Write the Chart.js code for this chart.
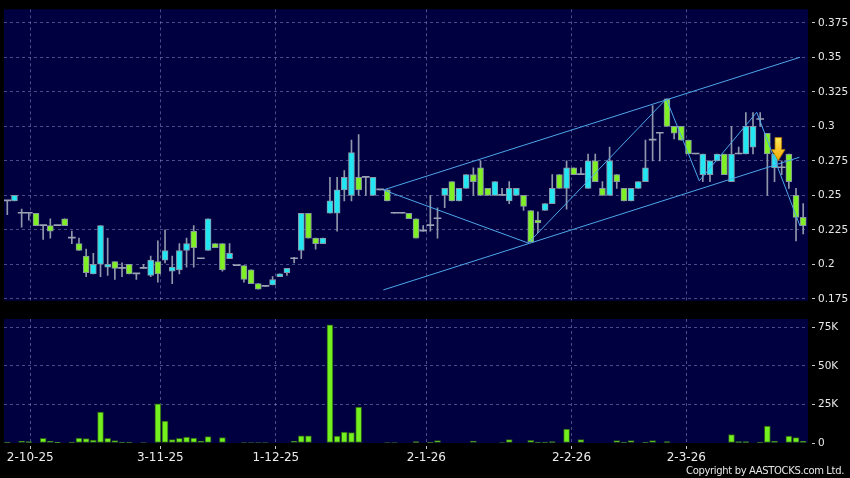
<!DOCTYPE html>
<html><head><meta charset="utf-8">
<script src="https://cdn.jsdelivr.net/npm/chart.js@4.4.1/dist/chart.umd.min.js"></script>
<style>
html,body{margin:0;padding:0;background:#000;width:850px;height:478px;overflow:hidden;}
#p{position:absolute;left:0;top:0;}
#v{position:absolute;left:0;top:305px;}
#copy{position:absolute;right:6px;top:465px;color:#e6e6e6;font:10px "DejaVu Sans",sans-serif;letter-spacing:-0.35px;white-space:nowrap;}
</style></head><body>
<canvas id="p" width="850" height="310"></canvas>
<canvas id="v" width="850" height="173"></canvas>
<div id="copy">Copyright by AASTOCKS.com Ltd.</div>
<script>
// ---- data (one entry per trading day, oldest first) ----
const OPEN  = [0.246,0.246,0.237,0.237,0.237,0.228,0.228,0.228,0.233,0.219,0.215,0.206,0.193,0.200,0.198,0.202,0.197,0.200,0.193,0.197,
               0.192,0.202,0.203,0.195,0.196,0.210,0.224,0.204,0.210,0.215,0.215,0.204,0.199,0.199,0.196,0.186,0.184,0.185,0.191,0.194,
               0.204,0.210,0.237,0.219,0.215,0.237,0.237,0.254,0.250,0.263,0.263,0.250,0.254,0.254,0.237,0.237,0.237,0.233,0.224,0.228,
               0.233,0.250,0.260,0.246,0.255,0.265,0.270,0.255,0.250,0.250,0.246,0.250,0.250,0.239,0.232,0.239,0.244,0.265,0.255,0.270,
               0.265,0.255,0.275,0.255,0.250,0.265,0.255,0.246,0.255,0.260,0.290,0.295,0.320,0.300,0.300,0.290,0.280,0.265,0.265,0.275,
               0.280,0.260,0.280,0.280,0.285,0.305,0.295,0.270,0.270,0.280,0.250,0.234];
const HIGH  = [0.246,0.250,0.240,0.237,0.237,0.228,0.233,0.228,0.233,0.224,0.219,0.211,0.208,0.228,0.219,0.202,0.201,0.200,0.193,0.200,
               0.206,0.217,0.225,0.206,0.215,0.219,0.228,0.204,0.233,0.215,0.215,0.215,0.199,0.199,0.196,0.186,0.184,0.191,0.193,0.197,
               0.205,0.237,0.237,0.219,0.219,0.263,0.263,0.268,0.290,0.294,0.263,0.263,0.254,0.254,0.237,0.237,0.237,0.233,0.228,0.250,
               0.241,0.255,0.260,0.255,0.265,0.270,0.275,0.255,0.260,0.255,0.260,0.255,0.250,0.239,0.238,0.244,0.265,0.265,0.275,0.270,
               0.270,0.280,0.280,0.260,0.285,0.265,0.255,0.255,0.260,0.290,0.315,0.295,0.320,0.300,0.300,0.290,0.280,0.280,0.275,0.280,
               0.280,0.300,0.285,0.310,0.310,0.310,0.295,0.280,0.275,0.280,0.255,0.244];
const LOW   = [0.236,0.246,0.227,0.232,0.228,0.218,0.219,0.228,0.228,0.215,0.210,0.191,0.193,0.191,0.192,0.189,0.191,0.193,0.189,0.197,
               0.191,0.187,0.201,0.186,0.193,0.198,0.198,0.204,0.210,0.212,0.195,0.204,0.199,0.187,0.186,0.182,0.184,0.185,0.191,0.192,
               0.201,0.204,0.219,0.211,0.215,0.237,0.224,0.246,0.246,0.250,0.250,0.250,0.254,0.246,0.237,0.237,0.233,0.219,0.224,0.224,
               0.219,0.241,0.246,0.246,0.255,0.250,0.250,0.250,0.250,0.250,0.244,0.250,0.239,0.216,0.223,0.239,0.244,0.255,0.240,0.265,
               0.265,0.255,0.260,0.250,0.250,0.255,0.246,0.246,0.255,0.260,0.275,0.275,0.300,0.291,0.290,0.280,0.280,0.260,0.260,0.275,
               0.265,0.260,0.280,0.280,0.280,0.300,0.250,0.260,0.265,0.255,0.217,0.222];
const CLOSE = [0.246,0.250,0.237,0.237,0.228,0.228,0.224,0.228,0.228,0.219,0.210,0.194,0.200,0.228,0.200,0.197,0.197,0.193,0.193,0.197,
               0.203,0.193,0.210,0.198,0.210,0.215,0.212,0.204,0.233,0.212,0.196,0.208,0.199,0.189,0.186,0.182,0.184,0.189,0.193,0.197,
               0.204,0.237,0.219,0.215,0.219,0.246,0.254,0.263,0.281,0.254,0.263,0.263,0.254,0.246,0.237,0.237,0.233,0.219,0.224,0.228,
               0.233,0.255,0.246,0.255,0.265,0.260,0.250,0.250,0.260,0.250,0.255,0.255,0.242,0.216,0.230,0.244,0.255,0.255,0.270,0.265,
               0.265,0.275,0.260,0.250,0.275,0.260,0.246,0.255,0.260,0.270,0.290,0.295,0.300,0.295,0.290,0.280,0.280,0.280,0.275,0.280,
               0.265,0.280,0.280,0.300,0.300,0.305,0.280,0.280,0.270,0.260,0.234,0.228];
const VOLUME = [650,0,1300,860,0,3000,1300,200,0,650,3200,2800,1940,20000,3000,1500,650,650,0,300,
                0,25400,14200,2150,3000,3900,3200,1300,4100,0,3450,0,0,300,300,300,300,0,0,0,
                1300,4700,4700,0,0,76500,4500,7100,6700,23300,0,0,0,300,300,0,0,860,0,650,
                1500,0,0,0,0,1300,0,0,0,300,2150,0,0,1700,650,650,860,0,9050,0,
                2150,0,0,0,0,1500,650,1500,0,650,1500,0,860,0,0,0,0,0,0,0,
                0,5400,860,860,0,650,11000,1080,0,4500,3450,1080];
// date axis labels and their positions (in trading-day index units)
const X_TICK_POS    = [3.2, 21.34, 37.45, 58.45, 78.69, 94.7];
const X_TICK_LABELS = ['2-10-25','3-11-25','1-12-25','2-1-26','2-2-26','2-3-26'];
const PRICE_TICKS       = [0.175,0.2,0.225,0.25,0.275,0.3,0.325,0.35,0.375];
const PRICE_TICK_LABELS = ['0.175','0.2','0.225','0.25','0.275','0.3','0.325','0.35','0.375'];
const VOL_TICKS       = [0,25000,50000,75000];
const VOL_TICK_LABELS = ['0','25K','50K','75K'];
// drawn trend lines (x in day index, y in price)
const CHANNEL_UP_X  = [52.44, 110.56];
const CHANNEL_UP_Y  = [0.2539, 0.3501];
const CHANNEL_LOW_X = [52.44, 110.46];
const CHANNEL_LOW_Y = [0.1814, 0.2776];
const ZIGZAG_X = [52.44, 72.66, 91.91, 96.51, 104.52, 110.56];
const ZIGZAG_Y = [0.2539, 0.2154, 0.3199, 0.2605, 0.3102, 0.2277];
const ARROW_X = 107.53, ARROW_Y = 0.2752;   // tip of the signal arrow

// ---- axis ranges / style ----
const X_MIN = -0.46, X_MAX = 111.67;
const Y_MIN = 0.1736, Y_MAX = 0.3849;
const VOL_MAX = 80300;
const NAVY = '#000040';
const GRID = 'rgba(130,140,190,0.55)';
const CYAN = '#22e6f2', LIME = '#7ff024', WICK = '#8e98aa', DOJI = '#9aa2b4';
const LINE = '#4ea6ea';
const FONT = '"DejaVu Sans", sans-serif';

const IDX = CLOSE.map((_, i) => i);
const bodies = IDX.filter(i => OPEN[i] !== CLOSE[i]).map(i => ({x: i, y: [OPEN[i], CLOSE[i]], up: CLOSE[i] > OPEN[i]}));
const dojis  = IDX.filter(i => OPEN[i] === CLOSE[i]).map(i => ({x: i, y: [OPEN[i], CLOSE[i]]}));
const wicks  = IDX.map(i => ({x: i, y: [LOW[i], HIGH[i]]}));
const pts = (xs, ys) => xs.map((x, i) => ({x, y: ys[i]}));

const bgPlugin = {
  id: 'bg',
  beforeDraw(chart) {
    const {ctx, chartArea: a} = chart;
    ctx.save(); ctx.fillStyle = NAVY; ctx.fillRect(a.left, a.top, a.right - a.left, a.bottom - a.top); ctx.restore();
  }
};
const arrowPlugin = {
  id: 'arrow',
  afterDatasetsDraw(chart) {
    const {ctx, scales} = chart;
    const tx = scales.x.getPixelForValue(ARROW_X), ty = scales.y.getPixelForValue(ARROW_Y);
    ctx.save();
    const g = ctx.createLinearGradient(0, ty - 23, 0, ty);
    g.addColorStop(0, '#ffe95a'); g.addColorStop(1, '#f2a400');
    ctx.beginPath();
    ctx.moveTo(tx - 3.3, ty - 23); ctx.lineTo(tx + 3.3, ty - 23); ctx.lineTo(tx + 3.3, ty - 11);
    ctx.lineTo(tx + 6.7, ty - 11); ctx.lineTo(tx, ty); ctx.lineTo(tx - 6.7, ty - 11); ctx.lineTo(tx - 3.3, ty - 11);
    ctx.closePath();
    ctx.fillStyle = g; ctx.fill();
    ctx.strokeStyle = '#b07a00'; ctx.lineWidth = 0.8; ctx.stroke();
    ctx.restore();
  }
};

const xTicks = s => { s.ticks = X_TICK_POS.map(v => ({value: v})); };

new Chart(document.getElementById('p'), {
  type: 'bar',
  data: {
    datasets: [
      {type: 'line', data: pts(CHANNEL_UP_X, CHANNEL_UP_Y), borderColor: LINE, borderWidth: 1, pointRadius: 0, order: 0},
      {type: 'line', data: pts(CHANNEL_LOW_X, CHANNEL_LOW_Y), borderColor: LINE, borderWidth: 1, pointRadius: 0, order: 0},
      {type: 'line', data: pts(ZIGZAG_X, ZIGZAG_Y), borderColor: LINE, borderWidth: 1, pointRadius: 0, order: 0},
      {data: bodies, grouped: false, barThickness: 6, borderWidth: 1, borderSkipped: false,
       borderColor: '#8a96a6', backgroundColor: c => (c.raw && c.raw.up) ? CYAN : LIME, order: 1},
      {data: dojis, grouped: false, barThickness: 7, minBarLength: 1, borderWidth: 0, backgroundColor: DOJI, order: 2},
      {data: wicks, grouped: false, barThickness: 1, minBarLength: 0, borderWidth: 0, backgroundColor: WICK, order: 3}
    ]
  },
  options: {
    responsive: false, animation: false,
    layout: {padding: {left: 4, top: 5, right: 0, bottom: 5}},
    plugins: {legend: {display: false}, tooltip: {enabled: false}},
    scales: {
      x: {type: 'linear', min: X_MIN, max: X_MAX, offset: false,
          afterBuildTicks: xTicks, afterFit: s => { s.height = 0; },
          ticks: {display: false}, grid: {offset: false, color: GRID, drawTicks: false}, border: {display: false, dash: [3, 3]}},
      y: {type: 'linear', position: 'right', min: Y_MIN, max: Y_MAX,
          afterBuildTicks: s => { s.ticks = PRICE_TICKS.map(v => ({value: v})); },
          afterFit: s => { s.width = 42; },
          ticks: {autoSkip: false, callback: (v, i) => PRICE_TICK_LABELS[i], color: '#e8e8e8', font: {family: FONT, size: 10.5}, padding: 3},
          grid: {color: GRID, tickColor: '#c8c8c8', tickLength: 7, tickBorderDash: [0, 4, 3, 30]},
          border: {display: false, dash: [3, 3]}}
    }
  },
  plugins: [bgPlugin, arrowPlugin]
});

new Chart(document.getElementById('v'), {
  type: 'bar',
  data: {
    datasets: [
      {data: IDX.map(i => ({x: i, y: VOLUME[i]})), grouped: false, barThickness: 6, borderWidth: 1, borderSkipped: false,
       borderColor: '#2b5e16', backgroundColor: '#74f01e'}
    ]
  },
  options: {
    responsive: false, animation: false,
    layout: {padding: {left: 4, top: 14, right: 0, bottom: 0}},
    plugins: {legend: {display: false}, tooltip: {enabled: false}},
    scales: {
      x: {type: 'linear', min: X_MIN, max: X_MAX, offset: false,
          afterBuildTicks: xTicks, afterFit: s => { s.height = 35; },
          ticks: {autoSkip: false, maxRotation: 0, callback: (v, i) => X_TICK_LABELS[i], color: '#ececec', font: {family: FONT, size: 12}, padding: 2},
          grid: {offset: false, color: GRID, tickColor: '#c8c8c8', tickLength: 6, tickBorderDash: [0, 3, 3, 30]},
          border: {display: false, dash: [3, 3]}},
      y: {type: 'linear', position: 'right', min: 0, max: VOL_MAX,
          afterBuildTicks: s => { s.ticks = VOL_TICKS.map(v => ({value: v})); },
          afterFit: s => { s.width = 42; },
          ticks: {autoSkip: false, callback: (v, i) => VOL_TICK_LABELS[i], color: '#e8e8e8', font: {family: FONT, size: 10.5}, padding: 3},
          grid: {color: c => (c.tick && c.tick.value === 0) ? 'rgba(0,0,0,0)' : GRID, tickColor: '#c8c8c8', tickLength: 7, tickBorderDash: [0, 4, 3, 30]},
          border: {display: false, dash: [3, 3]}}
    }
  },
  plugins: [bgPlugin]
});
</script>
</body></html>
